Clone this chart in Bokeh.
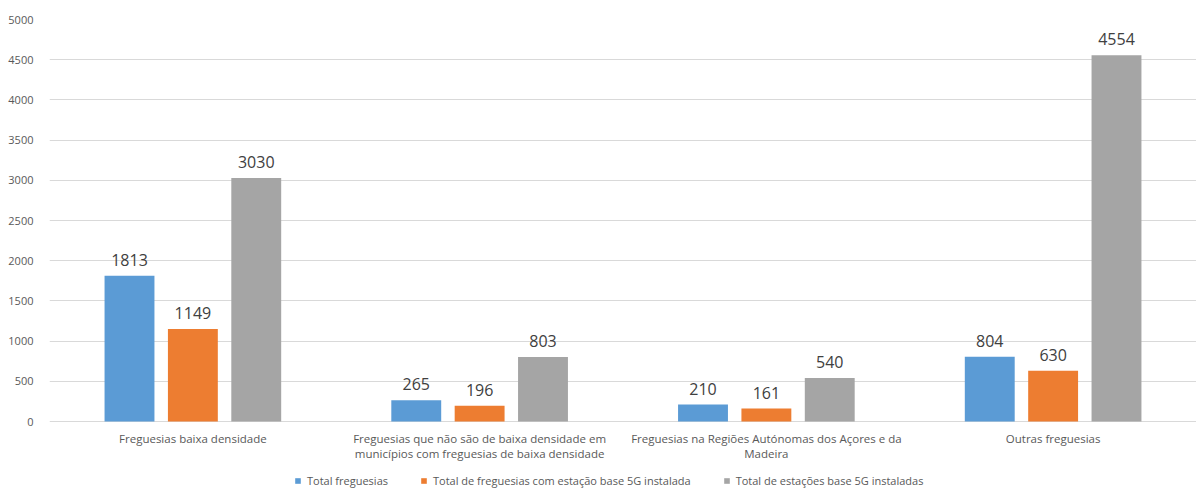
from bokeh.plotting import figure
from bokeh.models import ColumnDataSource, Legend, LegendItem, FactorRange, FixedTicker, Range1d
from bokeh.transform import dodge
from bokeh.core.properties import value
from bokeh.embed import file_html
from bokeh.resources import INLINE

categories = [
    "Freguesias baixa densidade",
    "Freguesias que não são de baixa densidade em\nmunicípios com freguesias de baixa densidade",
    "Freguesias na Regiões Autónomas dos Açores e da\nMadeira",
    "Outras freguesias",
]
series_names = [
    "Total freguesias",
    "Total de freguesias com estação base 5G instalada",
    "Total de estações base 5G instaladas",
]
total_freguesias = [1813, 265, 210, 804]
freguesias_5g = [1149, 196, 161, 630]
estacoes_5g = [3030, 803, 540, 4554]
y_ticks = [0, 500, 1000, 1500, 2000, 2500, 3000, 3500, 4000, 4500, 5000]
colors = ["#5B9BD5", "#ED7D31", "#A5A5A5"]

FONT = "Open Sans"

src = ColumnDataSource(data=dict(
    cat=categories,
    base=[0] * len(categories),
    s0=total_freguesias,
    s1=freguesias_5g,
    s2=estacoes_5g,
    l0=[str(v) for v in total_freguesias],
    l1=[str(v) for v in freguesias_5g],
    l2=[str(v) for v in estacoes_5g],
))

# frame spans 19..488 px; 0..5000 occupies 19..421 px
y_max = y_ticks[-1]
px_per_unit = 402 / y_max
y_min = -(488 - 421) / px_per_unit

p = figure(
    width=1196, height=488,
    x_range=FactorRange(*categories),
    y_range=Range1d(y_min, y_max),
    output_backend="svg", toolbar_location=None,
    min_border_left=49, min_border_right=0, min_border_top=19, min_border_bottom=0,
)
p.outline_line_color = None
p.background_fill_color = "white"
p.border_fill_color = "white"

offsets = [-0.221, 0.0, 0.221]
bar_w = 0.174
renderers = []
for i, (key, col) in enumerate(zip(["s0", "s1", "s2"], colors)):
    r = p.vbar(x=dodge("cat", offsets[i], range=p.x_range), top=key, width=bar_w,
               source=src, fill_color=col, line_color=None)
    renderers.append(r)
    p.text(x=dodge("cat", offsets[i], range=p.x_range), y=key, text="l%d" % i, source=src,
           text_align="center", text_baseline="bottom", y_offset=-10,
           text_font=value(FONT), text_font_size="16px", text_color="#404040")

# category labels under the baseline
p.text(x="cat", y="base", text="cat", source=src, text_align="center", text_baseline="top",
       y_offset=9, text_font=value(FONT), text_font_size="11.5px", text_color="#595959",
       text_line_height=1.05)

p.yaxis.ticker = FixedTicker(ticks=y_ticks)
p.yaxis.axis_line_color = None
p.yaxis.major_tick_line_color = None
p.yaxis.minor_tick_line_color = None
p.yaxis.major_label_text_font = FONT
p.yaxis.major_label_text_font_size = "11px"
p.yaxis.major_label_text_color = "#595959"
p.yaxis.major_label_standoff = 10

p.xaxis.visible = False

p.xgrid.grid_line_color = None
p.ygrid.ticker = FixedTicker(ticks=y_ticks)
p.ygrid.grid_line_color = "#d9d9d9"

legend = Legend(
    items=[LegendItem(label=n, renderers=[r]) for n, r in zip(series_names, renderers)],
    orientation="horizontal", location=(245, 0),
    label_text_font=FONT, label_text_font_size="11px", label_text_color="#595959",
    glyph_width=7, glyph_height=7, spacing=32, padding=0, margin=0, label_standoff=6,
    border_line_color=None, background_fill_alpha=0,
)
p.add_layout(legend, "center")

open("out.html", "w").write(file_html(p, INLINE))
